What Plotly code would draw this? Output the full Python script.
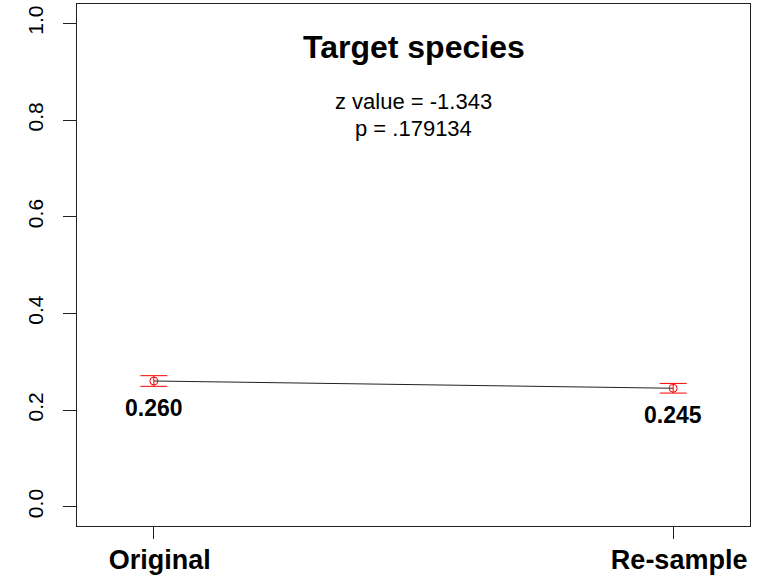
import plotly.graph_objects as go

# Group labels, estimated proportions and their standard errors
groups = ["Original", "Re-sample"]
xpos = [1, 2]
means = [0.260, 0.245]
errors = [0.011, 0.010]
value_labels = ["0.260", "0.245"]

title_text = "Target species"
stat_lines = ["z value = -1.343", "p = .179134"]

y_ticks = [0.0, 0.2, 0.4, 0.6, 0.8, 1.0]

sans = "Liberation Sans, Arial, sans-serif"

fig = go.Figure()

# connecting line between the two estimates
fig.add_trace(go.Scatter(
    x=xpos, y=means, mode="lines",
    line=dict(color="#222222", width=1),
    hoverinfo="skip", showlegend=False,
))

# estimates with error bars
fig.add_trace(go.Scatter(
    x=xpos, y=means, mode="markers",
    marker=dict(symbol="circle-open", size=8, color="red", line=dict(width=1, color="red")),
    error_y=dict(type="data", array=errors, visible=True, color="red", thickness=1, width=13.5),
    showlegend=False,
))

# value labels beneath each point
for x, m, lab in zip(xpos, means, value_labels):
    fig.add_annotation(
        x=x, y=m - 0.05, xref="x", yref="y", text=f"<b>{lab}</b>",
        showarrow=False, xanchor="center", yanchor="middle", yshift=-3,
        font=dict(family=sans, size=23, color="black"),
    )

# title and test statistics
fig.add_annotation(
    x=0.5, y=0.918, xref="paper", yref="paper", text=f"<b>{title_text}</b>",
    showarrow=False, xanchor="center", yanchor="middle",
    font=dict(family=sans, size=32, color="black"),
)
for i, line in enumerate(stat_lines):
    fig.add_annotation(
        x=0.5, y=0.813 - i * 0.052, xref="paper", yref="paper", text=line,
        showarrow=False, xanchor="center", yanchor="middle",
        font=dict(family=sans, size=22, color="black"),
    )

fig.update_xaxes(
    range=[0.852, 2.148], tickvals=xpos,
    ticktext=[f"<b>{g}</b>" for g in groups],
    tickfont=dict(family=sans, size=27, color="black"),
    ticks="outside", ticklen=12, tickcolor="#222222", tickwidth=1,
    ticklabelstandoff=-2, ticklabelshift=6,
    showline=True, linecolor="#222222", linewidth=1, mirror=True,
    showgrid=False, zeroline=False, automargin=False,
)
fig.update_yaxes(
    range=[-0.04, 1.04], tickvals=y_ticks,
    ticktext=[f"{v:.1f}" for v in y_ticks],
    tickfont=dict(family=sans, size=21, color="black"),
    tickangle=-90,
    ticks="outside", ticklen=13, tickcolor="#222222", tickwidth=1,
    ticklabelstandoff=12,
    showline=True, linecolor="#222222", linewidth=1, mirror=True,
    showgrid=False, zeroline=False, automargin=False,
)

fig.update_layout(
    width=764, height=580,
    margin=dict(l=77, r=14, t=4, b=54),
    paper_bgcolor="white", plot_bgcolor="white",
)

fig.write_html("out.html")
